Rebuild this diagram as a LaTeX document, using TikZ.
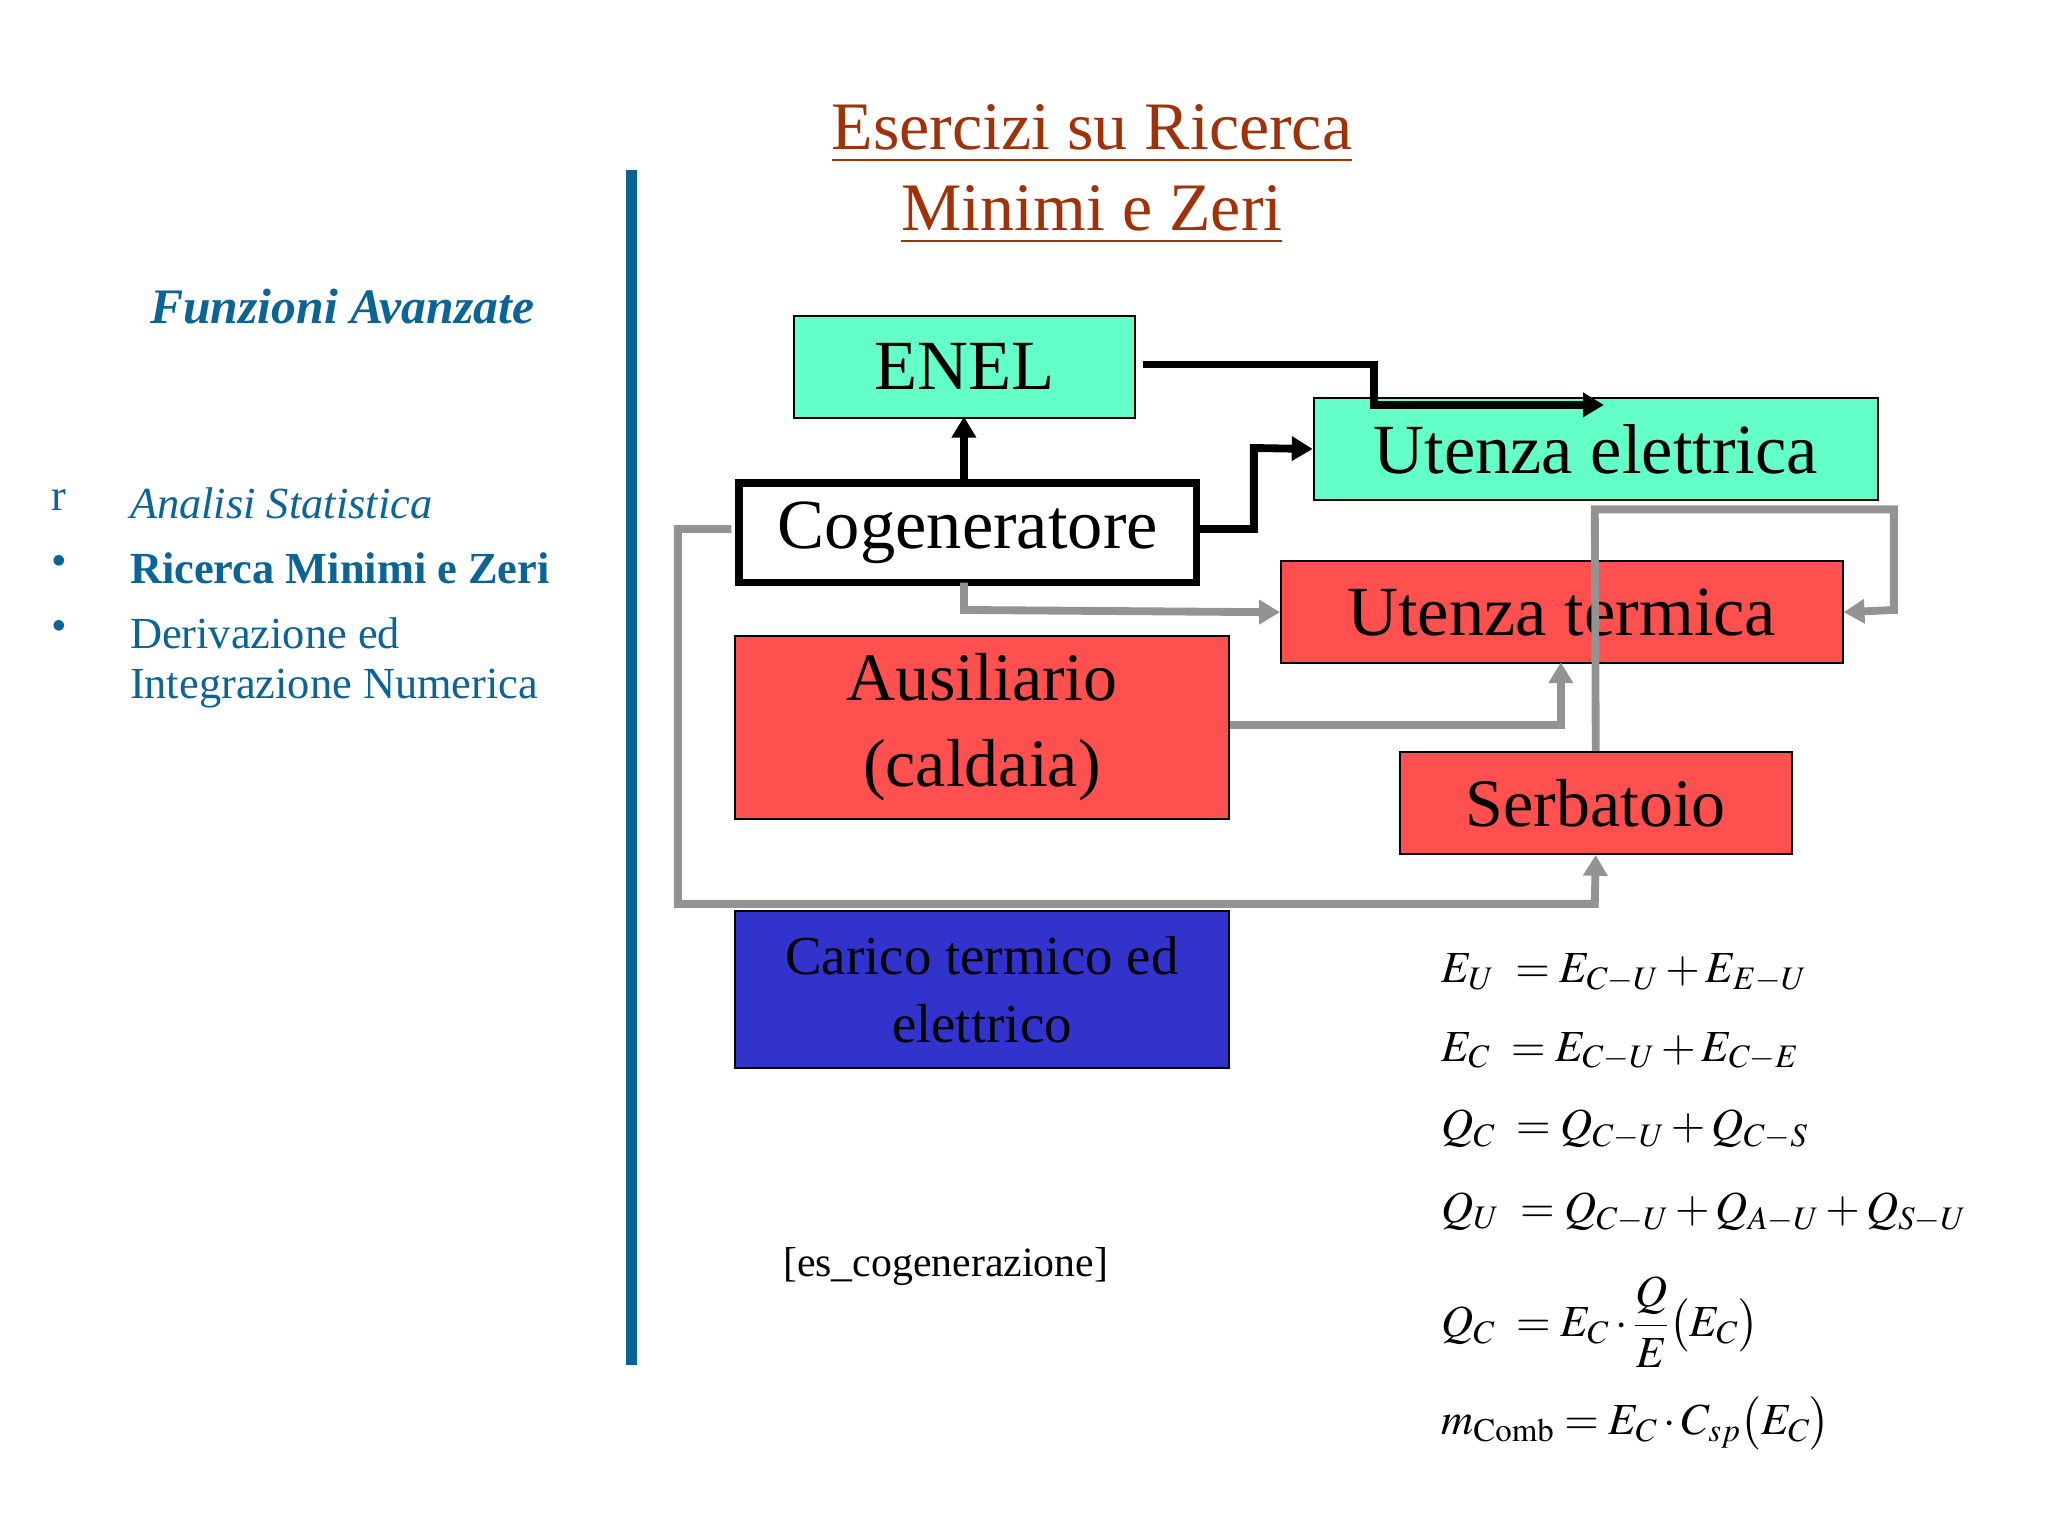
\documentclass[tikz,border=0pt]{standalone}
\usepackage{mathptmx}
\usepackage{fontspec}
\setmainfont{Liberation Serif}
\usetikzlibrary{arrows.meta}
\definecolor{ttl}{RGB}{160,50,10}
\definecolor{bar}{RGB}{10,100,150}
\definecolor{aq}{RGB}{100,255,200}
\definecolor{rd}{RGB}{255,80,80}
\definecolor{bl}{RGB}{50,50,205}
\newcommand{\fs}[1]{\fontsize{#1}{#1}\selectfont}
\begin{document}
\begin{tikzpicture}[x=1pt,y=-1pt,
 box/.style={draw=black,line width=1.5pt,inner sep=0pt,anchor=north west},
 blk/.style={line width=6pt,-{Triangle[length=16pt,width=18pt]}},
 gry/.style={draw=gray!85,line width=6pt,-{Triangle[length=16pt,width=18pt]}},
 side/.style={text=bar,anchor=west,font=\fs{34}}]
\useasboundingbox[fill=white] (0,0) rectangle (1568,1176);
\node[text=ttl,font=\fs{52}] (t1) at (836,103) {\underline{Esercizi su Ricerca}};
\node[text=ttl,font=\fs{52}] (t2) at (836,165) {\underline{Minimi e Zeri}};
\fill[bar] (479,130) rectangle (488,1045);
\node[text=bar,font=\fs{38}\bfseries\itshape] (fa) at (262,235) {Funzioni Avanzate};
\node[side] (r) at (36,383) {r};
\node[side] (a1) at (96,385) {\itshape Analisi Statistica};
\node[side] (b2) at (36,433) {•};
\node[side] (a2) at (96,435) {\bfseries Ricerca Minimi e Zeri};
\node[side] (b3) at (36,483) {•};
\node[side] (a3) at (96,485) {Derivazione ed};
\node[side] (a4) at (96,527) {Integrazione Numerica};
\node[box,fill=aq,minimum width=261pt,minimum height=78pt,font=\fs{54}] (enel) at (607,241) {ENEL};
\node[box,fill=aq,minimum width=432pt,minimum height=78pt,font=\fs{54}] (ue) at (1005,304) {Utenza elettrica};
\node[box,fill=white,line width=6pt,minimum width=350pt,minimum height=76pt,font=\fs{54}] (cog) at (563,367) {Cogeneratore};
\node[box,fill=rd,minimum width=430pt,minimum height=78pt,font=\fs{54}] (ut) at (980,429) {Utenza termica};
\node[box,fill=rd,minimum width=378pt,minimum height=140pt,font=\fs{52},align=center] (aus) at (562,486) {Ausiliario\\[14pt](caldaia)};
\node[box,fill=rd,minimum width=300pt,minimum height=78pt,font=\fs{52}] (ser) at (1071,575) {Serbatoio};
\node[box,fill=bl,minimum width=378pt,minimum height=120pt,font=\fs{42},align=center] (car) at (562,697) {Carico termico ed\\[10pt]elettrico};
% black arrows
\draw[blk] (738,367) -- (738,319);
\coordinate (e1) at (1228,310);
\coordinate (e0) at (875,279);
\draw[blk] (e0) -- (1052,279) -- (1052,310) -- (e1);
\draw[blk] (916,405) -- (960,405) -- (960,343) -- (ue.west);
% gray arrows
\draw[gry] (738,446) -- (738,467) -- (ut.west);
\draw[gry] (aus.east |- 0,555) -- (1195,555) -- (1195,507);
\draw[gry] (ser.north) -- (1221,390) -- (1450,390) -- (1450,467) -- (ut.east);
\draw[gry] (560,405) -- (519,405) -- (519,692) -- (1221,692) -- (ser.south);
\node[font=\fs{32}] (ref) at (724,970) {[es\_cogenerazione]};
\begin{scope}[every node/.style={anchor=west,font=\fs{34}}]
\node (q1) at (1100,745) {$E_U\ =E_{C-U}+E_{E-U}$};
\node (q2) at (1100,805) {$E_C\ =E_{C-U}+E_{C-E}$};
\node (q3) at (1100,865) {$Q_C\ =Q_{C-U}+Q_{C-S}$};
\node (q4) at (1100,928) {$Q_U\ =Q_{C-U}+Q_{A-U}+Q_{S-U}$};
\node (q5) at (1100,1012) {$Q_C\ =E_C\cdot{\displaystyle\frac{Q}{E}}\big(E_C\big)$};
\node (q6) at (1100,1090) {$m_{\mathrm{Comb}}=E_C\cdot C_{sp}\big(E_C\big)$};
\end{scope}
\end{tikzpicture}
\end{document}
